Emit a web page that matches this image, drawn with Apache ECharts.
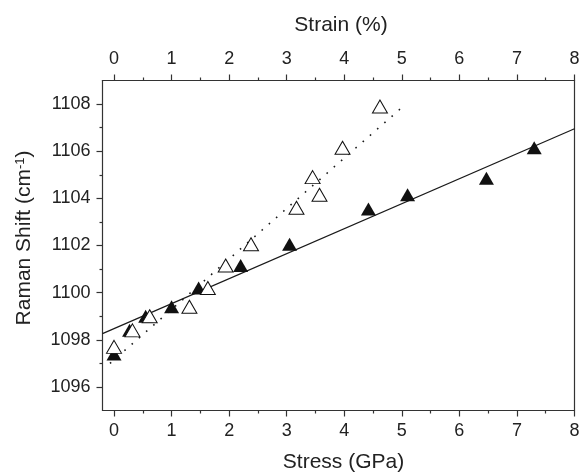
<!DOCTYPE html>
<html>
<head>
<meta charset="utf-8">
<script src="https://cdn.jsdelivr.net/npm/echarts@6/dist/echarts.min.js"></script>
<style>
  html, body { margin: 0; padding: 0; background: #fff; }
  #chart { width: 580px; height: 472px; }
</style>
</head>
<body>
<div id="chart"></div>
<script>
// filled triangles
const filledStress = [0.0, 0.27, 0.55, 1.0, 1.47, 2.2, 3.05, 4.42, 5.1, 6.47, 7.3]
const filledShift = [1097.4, 1098.4, 1099.0, 1099.4, 1100.2, 1101.15, 1102.05, 1103.55, 1104.15, 1104.85, 1106.15]

// open triangles
const openStress = [0.0, 0.32, 0.62, 1.31, 1.63, 1.94, 2.38, 3.17, 3.45, 3.57, 3.97, 4.62]
const openShift = [1097.7, 1098.4, 1099.0, 1099.4, 1100.2, 1101.15, 1102.05, 1103.6, 1104.9, 1104.15, 1106.15, 1107.9]

// fit lines (end points)
const solidFitX = [-0.2, 8]
const solidFitY = [1098.26, 1106.95]
const dottedFitX = [-0.07, 5.07]
const dottedFitY = [1097.0, 1108.0]

// ticks
const xMajor = [0, 1, 2, 3, 4, 5, 6, 7, 8]
const xMinor = [0.5, 1.5, 2.5, 3.5, 4.5, 5.5, 6.5, 7.5]
const yMajor = [1096, 1098, 1100, 1102, 1104, 1106, 1108]
const yMinor = [1097, 1099, 1101, 1103, 1105, 1107]

const FONT = 'Liberation Sans'
const INK = '#222'
const LINE = '#333'

const zip = (xs, ys) => xs.map((x, i) => [x, ys[i]])

const majorX = (pos, extra) => Object.assign({
  type: 'value', position: pos, min: -0.2, max: 8,
  axisLine: { show: true, onZero: false, lineStyle: { color: LINE, width: 1.2 } },
  axisTick: { show: true, inside: false, length: 6, customValues: xMajor, lineStyle: { color: LINE, width: 1.2 } },
  axisLabel: { show: true, customValues: xMajor, margin: 12, fontSize: 18, fontFamily: FONT, color: INK },
  splitLine: { show: false }
}, extra)

const minorX = (pos) => ({
  type: 'value', position: pos, min: -0.2, max: 8,
  axisLine: { show: false, onZero: false },
  axisTick: { show: true, inside: false, length: 3, customValues: xMinor, lineStyle: { color: LINE, width: 1.2 } },
  axisLabel: { show: false },
  splitLine: { show: false }
})

const nameStyle = { fontSize: 21, fontFamily: FONT, color: INK }

const option = {
  animation: false,
  backgroundColor: '#fff',
  grid: { left: 102.5, right: 5.5, top: 80.5, bottom: 61.5, containLabel: false, outerBoundsMode: 'none' },
  xAxis: [
    majorX('bottom', {
      name: 'Stress (GPa)', nameLocation: 'middle', nameGap: 41,
      nameTextStyle: Object.assign({ padding: [0, 0, 0, 10] }, nameStyle)
    }),
    minorX('bottom'),
    majorX('top', {
      name: 'Strain (%)', nameLocation: 'middle', nameGap: 45,
      nameTextStyle: Object.assign({ padding: [0, 0, 0, 5] }, nameStyle)
    }),
    minorX('top')
  ],
  yAxis: [
    {
      type: 'value', position: 'left', min: 1095, max: 1109,
      name: '{a|Raman Shift (cm}{b|-1}{a|)}', nameLocation: 'middle', nameGap: 68,
      nameTextStyle: {
        padding: [0, 0, 0, 15],
        rich: {
          a: { fontSize: 21, fontFamily: FONT, color: INK },
          b: { fontSize: 13, fontFamily: FONT, color: INK, verticalAlign: 'top', padding: [0, 0, 8, 0] }
        }
      },
      axisLine: { show: true, onZero: false, lineStyle: { color: LINE, width: 1.2 } },
      axisTick: { show: true, inside: false, length: 6, customValues: yMajor, lineStyle: { color: LINE, width: 1.2 } },
      axisLabel: {
        show: true, customValues: yMajor, margin: 12, fontSize: 18, fontFamily: FONT, color: INK,
        formatter: (v) => String(v)
      },
      splitLine: { show: false }
    },
    {
      type: 'value', position: 'left', min: 1095, max: 1109,
      axisLine: { show: false, onZero: false },
      axisTick: { show: true, inside: false, length: 3, customValues: yMinor, lineStyle: { color: LINE, width: 1.2 } },
      axisLabel: { show: false },
      splitLine: { show: false }
    },
    {
      type: 'value', position: 'right', min: 1095, max: 1109,
      axisLine: { show: true, onZero: false, lineStyle: { color: LINE, width: 1.2 } },
      axisTick: { show: false },
      axisLabel: { show: false },
      splitLine: { show: false }
    }
  ],
  series: [
    {
      type: 'line', data: zip(solidFitX, solidFitY), symbol: 'none', z: 1,
      lineStyle: { color: '#1a1a1a', width: 1.2 }
    },
    {
      type: 'line', data: zip(dottedFitX, dottedFitY), symbol: 'none', z: 1,
      lineStyle: { color: '#1a1a1a', width: 1.6, type: [1.6, 8] }
    },
    {
      type: 'scatter', data: zip(filledStress, filledShift), z: 2,
      symbol: 'triangle', symbolSize: [15, 13],
      itemStyle: { color: '#111', opacity: 1 }
    },
    {
      type: 'scatter', data: zip(openStress, openShift), z: 3,
      symbol: 'triangle', symbolSize: [15, 13],
      itemStyle: { color: '#fff', borderColor: '#111', borderWidth: 1, opacity: 1 }
    }
  ]
}

const myChart = echarts.init(document.getElementById('chart'), null, { renderer: 'canvas' })
myChart.setOption(option)
</script>
</body>
</html>
